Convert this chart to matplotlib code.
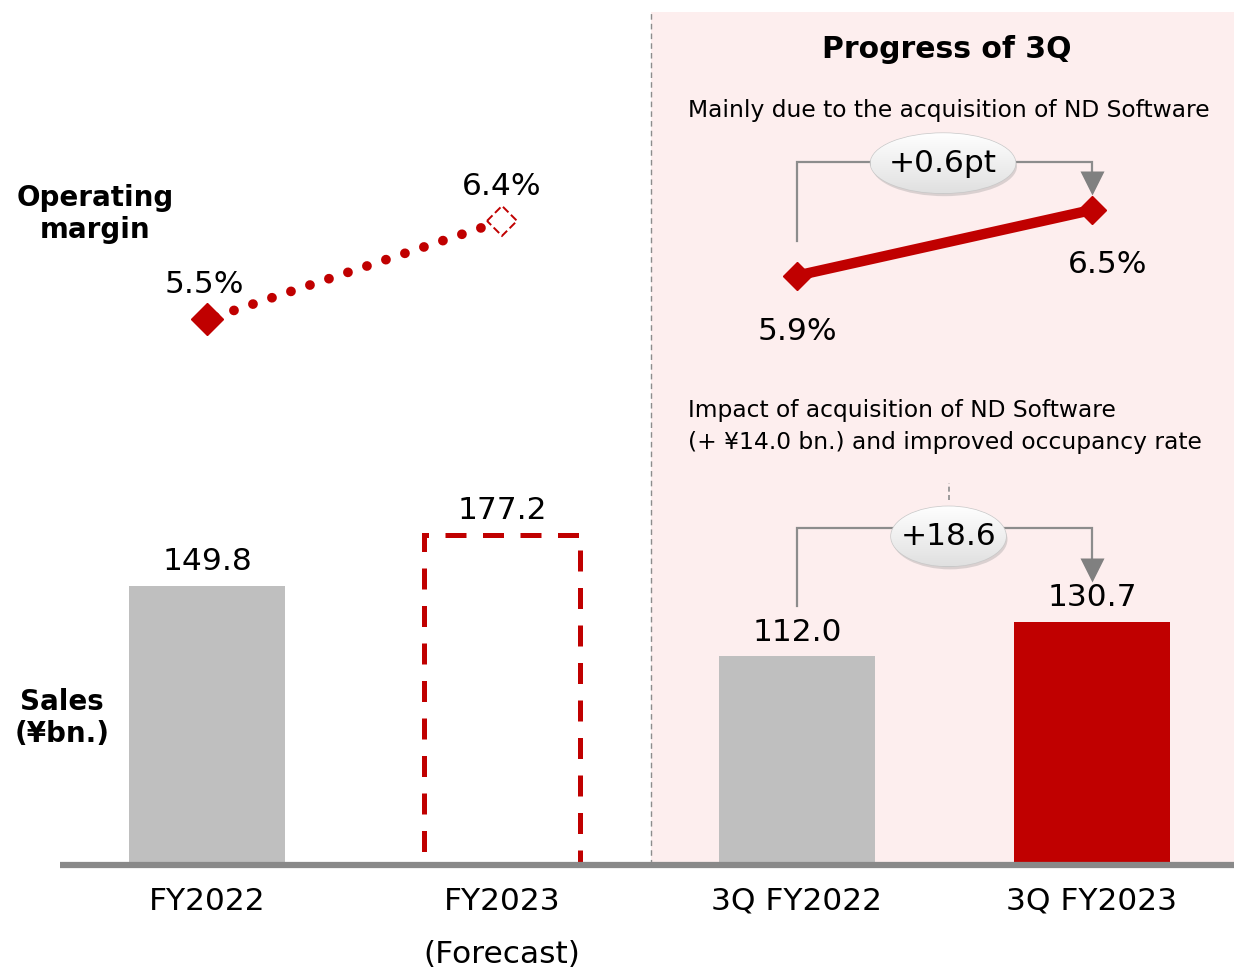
import numpy as np
import matplotlib
matplotlib.use("Agg")
import matplotlib.pyplot as plt
from matplotlib.patches import Rectangle, Ellipse, Polygon
from matplotlib.transforms import Affine2D

# ---- data ----
categories = ["FY2022", "FY2023\n(Forecast)", "3Q FY2022", "3Q FY2023"]
sales = [149.8, 177.2, 112.0, 130.7]
sales_labels = ["149.8", "177.2", "112.0", "130.7"]
margin_full_year = [5.5, 6.4]
margin_q3 = [5.9, 6.5]
sales_diff_label = "+18.6"
margin_diff_label = "+0.6pt"

RED = "#C00000"
GRAY_BAR = "#BFBFBF"
PINK = "#FDEEEE"
FS = 22.5

plt.rcParams["font.family"] = ["DejaVu Sans"]

fig = plt.figure(figsize=(12.34, 9.72), dpi=100)
ax = fig.add_axes([0, 0, 1, 1])
ax.set_xlim(-0.7017, 3.4814)
ax.set_ylim(-57.46, 464.55)
ax.axis("off")

ax2 = ax.twinx()
ax2.set_ylim(-0.459, 8.417)
ax2.axis("off")

x = np.arange(len(categories))
bw = 0.53

# pink panel for the quarterly section
panel_x = 1.505
ax.add_patch(Rectangle((panel_x, 0), 3.4814 - panel_x, 458, facecolor=PINK,
                       edgecolor="none", zorder=0))
ax.plot([panel_x, panel_x], [0, 458], color="#8C8C8C", lw=1.0,
        ls=(0, (4, 3)), zorder=1)

# bars
ax.bar(x[0], sales[0], bw, color=GRAY_BAR, zorder=2)
ax.bar(x[1], sales[1], bw, facecolor="none", edgecolor=RED, lw=3.6,
       ls=(0, (4.2, 3.3)), zorder=2)
ax.bar(x[2], sales[2], bw, color=GRAY_BAR, zorder=2)
ax.bar(x[3], sales[3], bw, color=RED, zorder=2)

# baseline
ax.plot([-0.498, 3.4814], [0, 0], color="#898989", lw=4.5,
        solid_capstyle="butt", zorder=3)

for xi, v, lab in zip(x, sales, sales_labels):
    ax.annotate(lab, (xi, v), xytext=(0, 7), textcoords="offset points",
                ha="center", va="bottom", fontsize=FS, zorder=5)

# x labels
for xi, lab in zip(x, categories):
    for k, ln in enumerate(lab.split("\n")):
        ax.text(xi, -19.5 - k * 28.5, ln, ha="center", va="center", fontsize=FS)

# operating margin: full year (dotted, forecast hollow)
ax2.plot(x[:2], margin_full_year, color=RED, lw=7,
         ls=(1.2, (0.01, 2.05)), dash_capstyle="round", zorder=4)
ax2.plot(x[0], margin_full_year[0], marker="D", ms=16, color=RED,
         mec=RED, zorder=5)
hx, hy = 15 / 295, 15 / 109.5
cx, cy = x[1], margin_full_year[1]
ax2.add_patch(Polygon([(cx - hx, cy), (cx, cy + hy), (cx + hx, cy), (cx, cy - hy)],
                      closed=True, facecolor="white", edgecolor=RED, lw=1.4,
                      ls=(0, (4, 1.8)), zorder=6))
ax2.annotate(f"{margin_full_year[0]}%", (x[0], margin_full_year[0]),
             xytext=(-2, 15), textcoords="offset points", ha="center",
             va="bottom", fontsize=FS)
ax2.annotate(f"{margin_full_year[1]}%", (x[1], margin_full_year[1]),
             xytext=(0, 14), textcoords="offset points", ha="center",
             va="bottom", fontsize=FS)

# operating margin: quarterly
ax2.plot(x[2:], margin_q3, color=RED, lw=7.5, marker="D", ms=14,
         solid_capstyle="butt", zorder=5)
ax2.annotate(f"{margin_q3[0]}%", (x[2], margin_q3[0]),
             xytext=(0, -30), textcoords="offset points", ha="center",
             va="top", fontsize=FS)
ax2.annotate(f"{margin_q3[1]}%", (x[3], margin_q3[1]),
             xytext=(11, -29), textcoords="offset points", ha="center",
             va="top", fontsize=FS)


def bubble(axis, cxb, cyb, w, h, text):
    shadow = Ellipse((cxb, cyb), w, h, facecolor="#9A9A9A", alpha=0.35,
                     edgecolor="none", zorder=6,
                     transform=axis.transData + Affine2D().translate(1.5, -3))
    axis.add_patch(shadow)
    ell = Ellipse((cxb, cyb), w, h, facecolor="#F2F2F2", edgecolor="#C8C8C8",
                  lw=1.0, zorder=7)
    axis.add_patch(ell)
    grad = np.linspace(1.0, 0.88, 64).reshape(-1, 1)
    im = axis.imshow(np.dstack([grad, grad, grad]),
                     extent=(cxb - w / 2, cxb + w / 2, cyb - h / 2, cyb + h / 2),
                     aspect="auto", zorder=7.5, origin="upper")
    im.set_clip_path(ell)
    axis.text(cxb, cyb, text, ha="center", va="center", fontsize=FS, zorder=8)


def elbow(axis, x0, y0, x1, y1, ytop, head_len):
    axis.plot([x0, x0, x1, x1], [y0, ytop, ytop, y1 + head_len], color="#8C8C8C",
              lw=1.6, zorder=4, solid_joinstyle="miter")
    axis.plot(x1, y1 + head_len * 0.5, marker="v", ms=17, color="#808080",
              mec="none", zorder=4)


# sales change callout
elbow(ax, x[2], sales[2] + 27, x[3], sales[3] + 23, 181, 10)
ax.plot([2.5136, 2.5136], [196, 205], color="#8C8C8C", lw=1.2, ls=(0, (3, 2)), zorder=4)
bubble(ax, 2.5136, 176.5, 115 / 295, 60 / 1.862, sales_diff_label)
ax.set_xlim(-0.7017, 3.4814)
ax.set_ylim(-57.46, 464.55)

# margin change callout
elbow(ax2, x[2], margin_q3[0] + 0.316, x[3], margin_q3[1] + 0.18, 6.937, 0.14)
bubble(ax2, 2.495, 6.927, 145 / 295, 60 / 109.5, margin_diff_label)
ax2.set_ylim(-0.459, 8.417)

# headings and notes
fig.text(947 / 1234, 1 - 50 / 972, "Progress of 3Q", ha="center", va="center",
         fontsize=21.5, fontweight="bold")
fig.text(688 / 1234, 1 - 110 / 972, "Mainly due to the acquisition of ND Software",
         ha="left", va="center", fontsize=16.8)
fig.text(688 / 1234, 1 - 411 / 972, "Impact of acquisition of ND Software",
         ha="left", va="center", fontsize=16.8)
fig.text(688 / 1234, 1 - 443 / 972, "(+ ¥14.0 bn.) and improved occupancy rate",
         ha="left", va="center", fontsize=16.8)
fig.text(95 / 1234, 1 - 214 / 972, "Operating\nmargin", ha="center", va="center",
         fontsize=20, fontweight="bold", linespacing=1.2)
fig.text(62 / 1234, 1 - 718 / 972, "Sales\n(¥bn.)", ha="center", va="center",
         fontsize=20, fontweight="bold", linespacing=1.2)

fig.savefig("out.png", dpi=100)
